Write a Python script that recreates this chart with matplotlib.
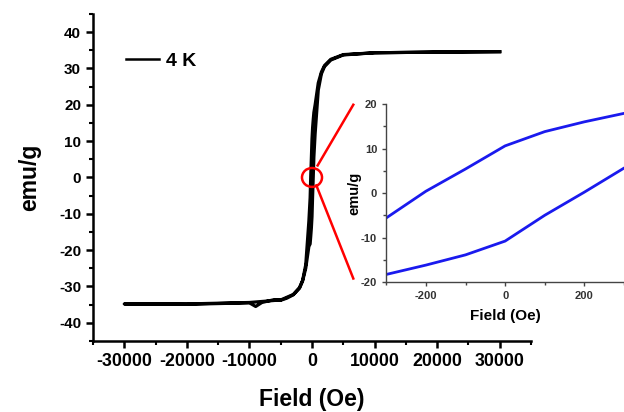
import matplotlib
matplotlib.use('Agg')
import matplotlib.pyplot as plt
from matplotlib.patches import Ellipse
from matplotlib.ticker import MultipleLocator

plt.rcParams['font.family'] = ['Liberation Sans', 'DejaVu Sans']
plt.rcParams['font.weight'] = 'bold'
plt.rcParams['axes.unicode_minus'] = False

# lower branch (field increasing)
FIELD_UP = [-30000, -20000, -10000, -9000, -8000, -6000, -5000, -4000, -3000, -2000, -1500, -1000,
            -500, -300, -200, -100, 0, 100, 200, 300, 500, 1000, 1500, 2000, 3000, 5000, 10000,
            20000, 30000]
MOMENT_UP = [-34.8, -34.9, -34.5, -35.5, -34.4, -33.6, -33.8, -33.2, -32.3, -30.5, -28.5, -25.0,
             -19.0, -18.3, -16.2, -13.9, -10.8, -5.0, 0.2, 5.6, 12.0, 24.0, 28.5, 30.5, 32.3, 33.7,
             34.3, 34.5, 34.6]

# upper branch (field decreasing)
FIELD_DOWN = [30000, 20000, 10000, 5000, 3000, 2000, 1500, 1000, 500, 300, 200, 100, 0, -100,
              -200, -300, -500, -1000, -1500, -2000, -3000, -5000, -10000, -20000, -30000]
MOMENT_DOWN = [34.6, 34.5, 34.3, 33.8, 32.5, 30.8, 29.0, 26.0, 20.0, 17.9, 16.0, 13.8, 10.6, 5.4,
               0.4, -5.6, -12.0, -24.0, -28.3, -30.3, -32.2, -33.7, -34.4, -34.8, -34.8]

LABEL = '4 K'

fig = plt.figure(figsize=(6.24, 4.12), dpi=100)

# main loop
ax = fig.add_axes([0.149, 0.1723, 0.702, 0.794])
ax.plot(FIELD_DOWN + FIELD_UP, MOMENT_DOWN + MOMENT_UP, color='black', lw=2.3, label=LABEL)
ax.set_xlim(-35000, 35000)
ax.set_ylim(-45, 45)
ax.set_xticks([-30000, -20000, -10000, 0, 10000, 20000, 30000])
ax.set_yticks([-40, -30, -20, -10, 0, 10, 20, 30, 40])
ax.xaxis.set_minor_locator(MultipleLocator(5000))
ax.yaxis.set_minor_locator(MultipleLocator(5))
ax.spines['top'].set_visible(False)
ax.spines['right'].set_visible(False)
for s in ['left', 'bottom']:
    ax.spines[s].set_linewidth(1.8)
ax.tick_params(which='major', direction='out', length=5, width=1.8)
ax.tick_params(which='minor', direction='out', length=3, width=1.5)
ax.tick_params(axis='x', labelsize=12.8)
ax.tick_params(axis='y', labelsize=11)
for lab in ax.get_xticklabels() + ax.get_yticklabels():
    lab.set_fontweight('bold')
ax.set_xlabel('Field (Oe)', fontsize=16.5, fontweight='bold', labelpad=13)
ax.set_ylabel('emu/g', fontsize=16.5, fontweight='bold', labelpad=13)
leg = ax.legend(loc='upper left', bbox_to_anchor=(0.035, 0.935), frameon=False,
                handlelength=1.7, handletextpad=0.35, prop={'weight': 'bold', 'size': 14})
for h in leg.get_lines():
    h.set_linewidth(1.8)

# zoom marker
ax.add_patch(Ellipse((0, 0), 3200, 5.2, fill=False, edgecolor='red', lw=1.8, zorder=5))
ax.plot([900, 6600], [3.3, 20.0], color='red', lw=1.8, zorder=5)
ax.plot([700, 6600], [-2.2, -27.8], color='red', lw=1.8, zorder=5)

# inset
ins = fig.add_axes([0.619, 0.3155, 0.381, 0.432])
ins.plot(FIELD_DOWN, MOMENT_DOWN, color='#1a1aee', lw=2)
ins.plot(FIELD_UP, MOMENT_UP, color='#1a1aee', lw=2)
ins.set_xlim(-300, 300)
ins.set_ylim(-20, 20)
ins.set_xticks([-200, 0, 200])
ins.set_yticks([-20, -10, 0, 10, 20])
ins.xaxis.set_minor_locator(MultipleLocator(100))
ins.yaxis.set_minor_locator(MultipleLocator(5))
ins.spines['top'].set_visible(False)
ins.spines['right'].set_visible(False)
for s in ['left', 'bottom']:
    ins.spines[s].set_linewidth(1.0)
    ins.spines[s].set_color('#444444')
ins.tick_params(which='major', direction='out', length=3, width=1, colors='#444444',
                labelcolor='#333333', labelsize=8)
ins.tick_params(which='minor', direction='out', length=2, width=1, colors='#444444')
for lab in ins.get_xticklabels() + ins.get_yticklabels():
    lab.set_fontweight('bold')
ins.set_xlabel('Field (Oe)', fontsize=11, fontweight='bold', labelpad=6)
ins.set_ylabel('emu/g', fontsize=10.5, fontweight='bold', labelpad=0)

fig.savefig('out.png', dpi=100)
